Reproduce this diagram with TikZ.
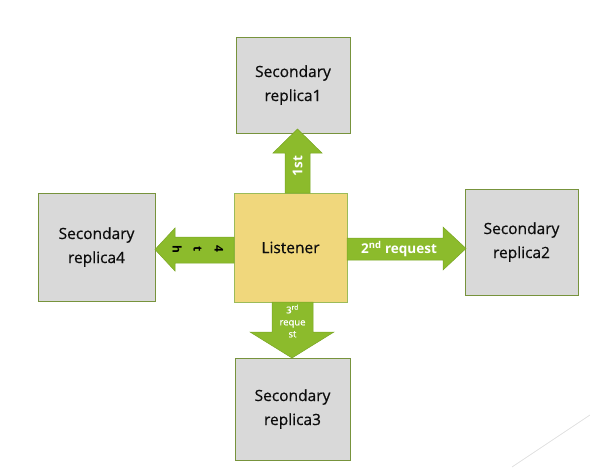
\documentclass[tikz,border=0pt]{standalone}
\usepackage{fontspec}
\setmainfont{Open Sans}
\newfontfamily\heavyfont[FakeBold=0.6]{Open Sans}
\definecolor{boxgray}{HTML}{D9D9D9}
\definecolor{boxline}{HTML}{77933C}
\definecolor{lisfill}{HTML}{F0D77C}
\definecolor{lisline}{HTML}{9BBB59}
\definecolor{arrfill}{HTML}{8CBB2C}
\definecolor{arrline}{HTML}{7AA524}
\definecolor{txt}{HTML}{0D0D0D}
\begin{document}
\begin{tikzpicture}[x=1pt,y=-1pt,
  replica/.style={draw=boxline,line width=0.9pt,fill=boxgray,inner sep=0pt,outer sep=0pt,
    align=center,text=txt,font=\heavyfont\fontsize{15.5}{24}\selectfont},
  blockarrow/.style={draw=arrline,line width=0.5pt,fill=arrfill},
  arrtext/.style={text=white,font=\bfseries\fontsize{13.5}{16}\selectfont,inner sep=0pt}]
\useasboundingbox (0,0) rectangle (590,475);

\node[replica,minimum width=114pt,minimum height=96pt] (r1) at (293,85) {Secondary\\replica1};
\node[replica,minimum width=117pt,minimum height=108pt] (r4) at (96.5,247) {Secondary\\replica4};
\node[replica,minimum width=113pt,minimum height=106pt] (r2) at (521.5,242) {Secondary\\replica2};
\node[replica,minimum width=115pt,minimum height=102pt] (r3) at (292.5,409) {Secondary\\replica3};
\node[replica,draw=lisline,fill=lisfill,minimum width=113pt,minimum height=109pt] (lis) at (290.5,247.5) {Listener};

% block arrows
\draw[blockarrow] (285,193) -- (285,153) -- (273,153) -- (297.5,129) -- (322,153) -- (310,153) -- (310,193) -- cycle;
\draw[blockarrow] (234,237) -- (175,237) -- (175,228) -- (155,249.5) -- (175,271) -- (175,263) -- (234,263) -- cycle;
\draw[blockarrow] (347,238) -- (443,238) -- (443,227) -- (466,248.5) -- (443,270) -- (443,260) -- (347,260) -- cycle;
\draw[blockarrow] (272,302) -- (272,332) -- (250,332) -- (292,358) -- (334,332) -- (313,332) -- (313,302) -- cycle;

\node[arrtext,rotate=90] (t1) at (297.5,166) {1st};
\node[arrtext,anchor=west] (t2) at (361,249) {2\textsuperscript{nd} request};
\node[text=white,font=\heavyfont\fontsize{9.5}{12}\selectfont,align=center,inner sep=0pt] (t3) at (292.5,321) {3\textsuperscript{rd}\\reque\\st};
\node[text=black,font=\bfseries\fontsize{12}{21}\selectfont,align=center,inner sep=0pt,rotate=-90] (t4) at (198,249) {4\\t\\h};

% slide decoration
\coordinate (d1) at (512,467);
\coordinate (d2) at (590,415);
\draw[black!12,line width=0.8pt] (d1) -- (d2);
\end{tikzpicture}
\end{document}
